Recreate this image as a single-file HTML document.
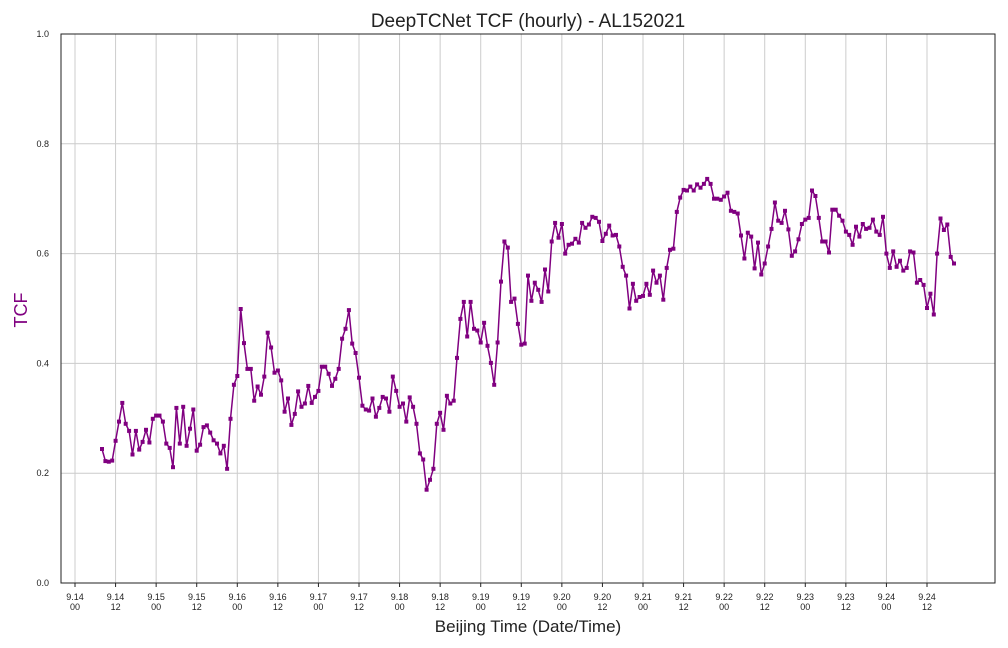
<!DOCTYPE html>
<html><head><meta charset="utf-8"><style>
html,body{margin:0;padding:0;background:#fff;}
svg{display:block;font-family:"Liberation Sans","DejaVu Sans",sans-serif;}
</style></head><body>
<svg id="chart" width="1008" height="648" viewBox="0 0 1008 648">
<rect x="0" y="0" width="1008" height="648" fill="#fff"/>
<text x="528" y="27" text-anchor="middle" font-size="19" fill="#222">DeepTCNet TCF (hourly) - AL152021</text>
<text x="528" y="632" text-anchor="middle" font-size="17" fill="#222">Beijing Time (Date/Time)</text>
<text x="27" y="310" text-anchor="middle" font-size="18" fill="#800080" transform="rotate(-90 27 310)">TCF</text>
<g id="grid"></g>
<g id="axes"></g>
<g id="series"></g>
<rect x="61" y="34" width="934" height="549" fill="none" stroke="#222" stroke-width="1"/>
</svg>
<script>
const startHour = 8;
const tcfValues = [
0.244,0.222,0.221,0.223,0.259,0.294,0.328,0.290,0.277,0.234,0.277,0.243,0.257,0.279,0.256,0.299,0.305,0.305,0.294,0.254,0.246,0.211,0.319,0.254,0.321,0.250,0.281,0.316,0.241,0.252,0.284,0.287,0.274,0.260,0.254,0.236,0.250,0.208,0.299,0.361,0.377,0.499,0.437,
0.390,0.390,0.332,0.358,0.343,0.376,0.456,0.429,0.383,0.387,0.369,0.312,0.336,0.288,0.308,0.349,0.321,0.327,0.359,0.328,0.339,0.350,0.394,0.394,0.381,0.359,0.372,0.390,0.445,0.463,0.497,0.436,0.419,0.374,0.323,0.316,0.314,0.336,0.303,0.319,0.339,
0.336,0.312,0.376,0.350,0.321,0.327,0.294,0.338,0.321,0.290,0.236,0.225,0.170,0.188,0.208,0.290,0.310,0.279,0.341,0.327,0.332,0.410,0.481,0.512,0.449,0.512,0.463,0.460,0.438,0.474,0.432,0.401,0.361,0.438,0.549,0.622,0.611,0.512,0.518,0.472,0.434,
0.436,0.560,0.514,0.547,0.534,0.512,0.571,0.531,0.622,0.656,0.629,0.654,0.600,0.616,0.618,0.627,0.620,0.656,0.647,0.653,0.667,0.665,0.658,0.623,0.636,0.651,0.633,0.634,0.613,0.576,0.560,0.500,0.545,0.514,0.521,0.523,0.545,0.525,0.569,0.547,0.560,0.516,
0.574,0.607,0.609,0.676,0.702,0.716,0.715,0.722,0.715,0.726,0.720,0.727,0.736,0.727,0.700,0.700,0.698,0.704,0.711,0.678,0.676,0.673,0.633,0.591,0.638,0.631,0.573,0.620,0.562,0.582,0.613,0.645,0.693,0.660,0.656,0.678,0.644,0.596,0.604,0.626,0.654,
0.662,0.665,0.715,0.705,0.665,0.622,0.622,0.602,0.680,0.680,0.669,0.660,0.640,0.634,0.616,0.649,0.631,0.654,0.645,0.647,0.662,0.640,0.634,0.667,0.600,0.574,0.604,0.576,0.587,0.569,0.574,0.604,0.602,0.547,0.552,0.543,0.501,0.527,0.489,0.600,0.664,0.643,0.653,0.594,0.582
];
const xTickDates = ["9.14","9.14","9.15","9.15","9.16","9.16","9.17","9.17","9.18","9.18","9.19","9.19","9.20","9.20","9.21","9.21","9.22","9.22","9.23","9.23","9.24","9.24"];
const xTickTimes = ["00","12","00","12","00","12","00","12","00","12","00","12","00","12","00","12","00","12","00","12","00","12"];
const yTicks = [0.0,0.2,0.4,0.6,0.8,1.0];
const yTickLabels = ["0.0","0.2","0.4","0.6","0.8","1.0"];

const NS="http://www.w3.org/2000/svg";
function xs(h){return 75 + h*(852/252);}
function ys(v){return 583 - v*549;}
function mk(tag,attrs,parent){const e=document.createElementNS(NS,tag);for(const k in attrs)e.setAttribute(k,attrs[k]);parent.appendChild(e);return e;}
const grid=document.getElementById('grid'), axes=document.getElementById('axes'), series=document.getElementById('series');

xTickDates.forEach((d,i)=>{
  const x=xs(i*12);
  const g=mk('line',{x1:x,x2:x,y1:34,y2:583,stroke:'#cccccc','stroke-width':1},grid);
  
  
  const t=mk('line',{x1:x,x2:x,y1:583,y2:587,stroke:'#222','stroke-width':1},axes);
  
  
  const l=mk('text',{x:x,y:600,'text-anchor':'middle','font-size':9,fill:'#222'},axes);
  
  
  const s1=mk('tspan',{x:x,dy:0},l); s1.textContent=d;
  const s2=mk('tspan',{x:x,dy:10},l); s2.textContent=xTickTimes[i];
});
yTicks.forEach((v,i)=>{
  const y=ys(v);
  const g=mk('line',{x1:61,x2:995,y1:y,y2:y,stroke:'#cccccc','stroke-width':1},grid);
  
  
  const l=mk('text',{x:49,y:y+3,'text-anchor':'end','font-size':9,fill:'#222'},axes);
  
  
  l.textContent=yTickLabels[i];
});
const pts=tcfValues.map((v,i)=>[xs(startHour+i),ys(v)]);
const line=mk('polyline',{points:pts.map(p=>p[0].toFixed(1)+','+p[1].toFixed(1)).join(' '),fill:'none',stroke:'#800080','stroke-width':1.5,'stroke-linejoin':'round'},series);


pts.forEach(p=>{
  const r=mk('rect',{x:(p[0]-2).toFixed(1),y:(p[1]-2).toFixed(1),width:4,height:4,fill:'#800080'},series);
  
  
});
</script>
</body></html>
